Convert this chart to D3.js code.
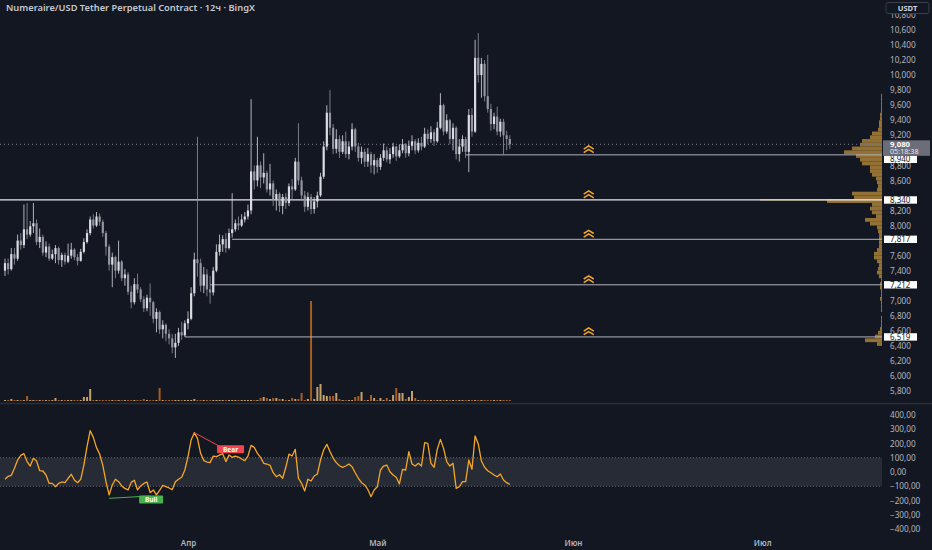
<!DOCTYPE html>
<html>
<head>
<meta charset="utf-8">
<script src="https://cdn.jsdelivr.net/npm/d3@7"></script>
<style>
  html, body { margin: 0; padding: 0; background: #131722; overflow: hidden; }
  svg { display: block; }
  text { font-family: "Noto Sans", sans-serif; }
</style>
</head>
<body>
<script>
/*---------------------------
 DATA
---------------------------*/
var title = "Numeraire/USD Tether Perpetual Contract · 12ч · BingX";

// 12h candles starting 3 March, open of the first one
var firstCandle = Date.UTC(2024, 2, 3);
var firstOpen = 7400;

var closes = [
  7500, 7420, 7620, 7560, 7800, 7740, 7950, 7880, 7990, 8030,
  7780, 7850, 7640, 7720, 7560, 7620, 7700, 7540, 7610, 7520,
  7600, 7680, 7580, 7530, 7650, 7780, 7900, 8080, 8000, 8120,
  8050, 7900, 7720, 7480, 7580, 7400, 7520, 7300, 7350, 7120,
  6980, 7220, 7150, 7020, 6900, 7040, 6980, 6760, 6850, 6620,
  6680, 6560, 6500, 6380, 6440, 6580, 6540, 6700, 6760, 7100,
  7550, 7500, 7200, 7350, 7150, 7110, 7400, 7650, 7750, 7820,
  7700, 7900, 7950, 8030, 8000, 8080, 8120, 8200, 8720, 8600,
  8800, 8640, 8700, 8480, 8560, 8350, 8420, 8260, 8380, 8300,
  8520, 8480, 8850, 8600, 8400, 8250, 8380, 8220, 8320, 8400,
  8650, 9050, 9500, 9300, 9020, 9150, 8980, 9120, 8950, 9050,
  9280, 9050, 8900, 8980, 8850, 8950, 8800, 8870, 8780, 8900,
  9000, 8880, 8950, 9050, 8920, 9000, 9080, 8960, 9060, 9120,
  9000, 9100, 9050, 9220, 9150, 9240, 9120, 9300, 9600, 9250,
  9400, 9150, 9300, 8950, 9050, 9150, 8980, 9470, 9250, 10230,
  10000, 10150, 9720, 9550, 9350, 9450, 9250, 9380, 9200, 9150,
  9080
];
var highs = [
  7560, 7560, 7700, 7700, 7880, 7900, 8280, 8300, 8060, 8300,
  8080, 7960, 7880, 7790, 7760, 7680, 7740, 7720, 7640, 7640,
  7760, 7770, 7700, 7620, 7690, 7830, 7950, 8120, 8150, 8180,
  8160, 8080, 7930, 7750, 7640, 7600, 7800, 7540, 7420, 7380,
  7200, 7300, 7360, 7180, 7060, 7080, 7230, 7000, 6900, 6870,
  6740, 6700, 6620, 6560, 6560, 6640, 6720, 6740, 6860, 7180,
  7640, 9180, 7560, 7450, 7420, 7330, 7450, 7750, 7880, 7870,
  7900, 7960, 8430, 8080, 8120, 8150, 8180, 8280, 9680, 8800,
  9180, 8850, 8960, 8730, 8820, 8600, 8480, 8440, 8420, 8430,
  8560, 8620, 8900, 9360, 8650, 8460, 8440, 8420, 8380, 8450,
  8700, 9120, 9600, 9800, 9350, 9280, 9200, 9200, 9250, 9120,
  9360, 9300, 9100, 9050, 9020, 9030, 8980, 8950, 8900, 8950,
  9090, 9050, 9030, 9100, 9060, 9080, 9150, 9100, 9130, 9200,
  9150, 9160, 9180, 9300, 9280, 9320, 9280, 9380, 9760, 9620,
  9480, 9420, 9360, 9320, 9150, 9200, 9180, 9550, 9560, 10470,
  10560, 10230, 10200, 10270, 9620, 9500, 9580, 9420, 9420, 9260,
  9200
];
var lows = [
  7330, 7350, 7400, 7480, 7530, 7680, 7700, 7820, 7850, 7900,
  7740, 7700, 7600, 7580, 7530, 7540, 7500, 7480, 7450, 7480,
  7500, 7560, 7540, 7470, 7520, 7630, 7760, 7870, 7960, 7980,
  8000, 7850, 7600, 7400, 7180, 7300, 7360, 7260, 7200, 7080,
  6900, 6950, 7100, 6980, 6850, 6860, 6800, 6700, 6580, 6560,
  6500, 6460, 6420, 6300, 6240, 6400, 6480, 6520, 6620, 6740,
  7060, 7320, 7120, 7100, 7060, 6960, 7070, 7380, 7600, 7650,
  7640, 7680, 7840, 7920, 7940, 7980, 8040, 8080, 8150, 8480,
  8520, 8500, 8560, 8440, 8400, 8260, 8200, 8180, 8150, 8220,
  8260, 8350, 8460, 8540, 8330, 8180, 8200, 8150, 8160, 8240,
  8380, 8620, 9000, 9200, 8950, 8960, 8900, 8950, 8900, 8880,
  9000, 8980, 8850, 8820, 8780, 8780, 8700, 8680, 8700, 8740,
  8860, 8840, 8820, 8900, 8860, 8900, 8960, 8900, 8920, 9000,
  8950, 8970, 9000, 9030, 9080, 9100, 9060, 9100, 9280, 9200,
  9220, 9080, 9000, 8880, 8850, 8980, 8900, 8710, 9180, 9230,
  9900, 9700, 9650, 9500, 9260, 9280, 9200, 9180, 8950, 9000,
  9020
];
var volumes = [
  1, 1, 2, 1, 1, 1, 1, 5, 1, 1,
  1, 1, 1, 1, 1, 1, 3, 1, 1, 1,
  1, 1, 1, 1, 1, 4, 4, 12, 1, 1,
  1, 1, 1, 1, 1, 1, 1, 1, 1, 1,
  1, 1, 1, 1, 2, 1, 1, 1, 1, 13,
  1, 1, 1, 1, 1, 1, 1, 1, 1, 1,
  2, 1, 1, 1, 1, 1, 1, 1, 1, 1,
  1, 1, 1, 1, 1, 1, 1, 1, 1, 1,
  1, 3, 4, 3, 2, 3, 3, 2, 2, 1,
  1, 3, 2, 2, 8, 1, 2, 100, 2, 14,
  17, 6, 5, 5, 5, 8, 2, 1, 1, 1,
  1, 4, 5, 9, 1, 1, 6, 3, 1, 3,
  1, 3, 1, 6, 13, 8, 8, 2, 4, 10,
  3, 1, 1, 1, 1, 1, 1, 1, 1, 1,
  1, 1, 1, 1, 1, 1, 1, 1, 1, 1,
  1, 1, 1, 1, 1, 1, 1, 1, 1, 1,
  1
];
var oscValues = [
  -51, -30, -23, 26, 84, 117, 129, 73, 42, 96,
  77, 9, 7, -21, -80, -80, -103, -80, -70, -75,
  -44, -16, -56, -75, -51, 49, 178, 290, 243, 171,
  126, 47, -68, -161, -91, -51, -68, -98, -115, -126,
  -73, -58, -126, -98, -80, -70, -145, -126, -161, -129,
  -94, -103, -112, -124, -68, -51, -37, 14, 108, 225,
  276, 236, 131, 80, 70, 66, 112, 108, 119, 129,
  73, 119, 103, 112, 105, 91, 80, 112, 187, 173,
  131, 103, 61, 56, 47, -5, -33, -19, -44, 33,
  126, 112, 159, -44, -80, -133, -51, -63, -28, -14,
  84, 154, 194, 143, 98, 66, 44, 33, 42, 56,
  37, -5, -44, -75, -91, -122, -173, -126, -103, 14,
  42, 49, 2, -21, -37, -84, 19, 14, 143, 56,
  42, 61, 42, 206, 201, 61, 33, 159, 229, 166,
  73, 42, 61, -115, -103, -68, -68, 84, 19, 253,
  197, 77, 33, 9, -5, -21, -33, -14, -56, -75,
  -87
];

// support levels and the candle each line starts from
var levels = [8940, 8340, 7817, 7212, 6519];
var levelFrom = [146, 0, 72, 65, 57];
var chevronDate = Date.UTC(2024, 5, 3, 12);

var lastPrice = 9080;
var countdown = "05:18:38";

// volume profile, 50-wide price bins starting at 6400
var profileStart = 6400, profileStep = 50;
var profileVol = [
  5, 17, 7, 4, 2, 1, 1, 1, 0, 1, 1, 1,
  2, 1, 1, 2, 2, 1, 3, 5, 4, 3, 5, 8, 8, 5, 3, 3, 3, 3, 4, 5,
  12, 17, 6, 10, 12, 10, 55, 28, 30, 5, 4, 5, 6, 10, 12, 12, 20, 22, 26, 38,
  30, 22, 20, 12, 10, 4, 3, 3, 2, 2, 1, 1, 1, 1, 1
];
var pocPrice = 8340, pocVol = 122;

// divergence marks on the oscillator: [candle index, oscillator value]
var bullDiv = [[33, -185], [46, -168]];
var bearDiv = [[60, 276], [68, 180]];

var priceTicks = [5800, 6000, 6200, 6400, 6600, 6800, 7000, 7200, 7400, 7600, 7800, 8000,
                  8200, 8400, 8600, 8800, 9000, 9200, 9400, 9600, 9800, 10000, 10200,
                  10400, 10600, 10800];
var oscTicks = [400, 300, 200, 100, 0, -100, -200, -300, -400];
var monthTicks = [Date.UTC(2024, 3, 1), Date.UTC(2024, 4, 1), Date.UTC(2024, 5, 1), Date.UTC(2024, 6, 1)];
var monthLabels = ["Апр", "Май", "Июн", "Июл"];

/*---------------------------
 SETUP
---------------------------*/
var W = 932, H = 550, plotRight = 882;
var upColor = "#d9dbe0", downColor = "#92959f";
var axisColor = "#b2b5be";

var candles = closes.map(function(c, i) {
  var o = i ? closes[i - 1] : firstOpen;
  return {
    t: new Date(firstCandle + i * 12 * 3600e3),
    o: o, c: c,
    h: Math.max(highs[i], o, c),
    l: Math.min(lows[i], o, c),
    v: volumes[i],
    osc: oscValues[i]
  };
});

var x = d3.scaleUtc()
          .domain([new Date(Date.UTC(2024, 2, 2, 5)), new Date(Date.UTC(2024, 6, 19, 23, 30))])
          .range([0, plotRight]);
var y = d3.scaleLinear().domain([5800, 10600]).range([391, 30]);
var vy = d3.scaleLinear().domain([0, 100]).range([401, 301]);
var oy = d3.scaleLinear().domain([-400, 400]).range([529, 415]);
var pw = d3.scaleLinear().domain([0, 1]).range([0, 1]);   // profile width in px

var svg = d3.select("body").append("svg")
            .attr("width", W)
            .attr("height", H);

svg.append("rect").attr("width", W).attr("height", H).attr("fill", "#131722");

// pane separator
svg.append("line")
   .attr("x1", 0).attr("x2", W)
   .attr("y1", 403.5).attr("y2", 403.5)
   .attr("stroke", "#2a2e39").attr("stroke-width", 1.5);

/*---------------------------
 MAIN PANE
---------------------------*/
var main = svg.append("g");

// volume profile
var profile = profileVol.map(function(v, i) {
  return { p: profileStart + i * profileStep, v: v };
});
main.selectAll("rect.prof")
    .data(profile.filter(function(d) { return d.v > 0; }))
    .enter()
    .append("rect")
    .attr("class", "prof")
    .attr("x", function(d) { return plotRight - pw(d.v); })
    .attr("y", function(d) { return y(d.p + profileStep); })
    .attr("width", function(d) { return pw(d.v); })
    .attr("height", function(d) { return y(d.p) - y(d.p + profileStep); })
    .attr("fill", "#a27a35")
    .attr("opacity", 0.9);

main.append("line")
    .attr("x1", plotRight - pw(pocVol)).attr("x2", plotRight)
    .attr("y1", y(pocPrice)).attr("y2", y(pocPrice))
    .attr("stroke", "#b98a3a").attr("stroke-width", 1.3);

// current price dotted line
main.append("line")
    .attr("x1", 0).attr("x2", plotRight)
    .attr("y1", y(lastPrice)).attr("y2", y(lastPrice))
    .attr("stroke", "#787b86").attr("stroke-dasharray", "1,3");

// volume bars
main.selectAll("rect.vol")
    .data(candles)
    .enter()
    .append("rect")
    .attr("class", "vol")
    .attr("x", function(d) { return x(d.t) - 1; })
    .attr("y", function(d) { return vy(d.v); })
    .attr("width", 2)
    .attr("height", function(d) { return vy(0) - vy(d.v); })
    .attr("fill", function(d) { return d.c >= d.o ? "#c4a06a" : "#a65d1f"; });

// support lines
levels.forEach(function(lv, k) {
  main.append("line")
      .attr("x1", k === 1 ? 0 : x(candles[levelFrom[k]].t))
      .attr("x2", plotRight)
      .attr("y1", y(lv)).attr("y2", y(lv))
      .attr("stroke", k === 1 ? "#e6e7ea" : "#b2b5be")
      .attr("stroke-width", k === 1 ? 1.3 : 1);

  // double chevron just above the line
  var cx = x(new Date(chevronDate)), cy = y(lv);
  [0, 3.6].forEach(function(off) {
    main.append("path")
        .attr("d", "M" + (cx - 5) + "," + (cy - 2.2 - off) + "L" + cx + "," + (cy - 5.4 - off) +
                   "L" + (cx + 5) + "," + (cy - 2.2 - off))
        .attr("fill", "none")
        .attr("stroke", "#f5a623")
        .attr("stroke-width", 1.5);
  });
});

// candles
var cg = main.selectAll("g.candle")
             .data(candles)
             .enter()
             .append("g")
             .attr("class", "candle");
cg.append("line")
  .attr("x1", function(d) { return x(d.t); })
  .attr("x2", function(d) { return x(d.t); })
  .attr("y1", function(d) { return y(d.h); })
  .attr("y2", function(d) { return y(d.l); })
  .attr("stroke", function(d) { return d.c >= d.o ? upColor : downColor; })
  .attr("stroke-width", 0.8);
cg.append("rect")
  .attr("x", function(d) { return x(d.t) - 1.1; })
  .attr("y", function(d) { return y(Math.max(d.o, d.c)); })
  .attr("width", 2.2)
  .attr("height", function(d) { return Math.max(1, Math.abs(y(d.o) - y(d.c))); })
  .attr("fill", function(d) { return d.c >= d.o ? upColor : downColor; });

// title
svg.append("text")
   .attr("x", 6).attr("y", 10.5)
   .attr("font-size", 9.3).attr("font-weight", 600)
   .attr("fill", "#c5c8d0")
   .text(title);

/*---------------------------
 OSCILLATOR PANE
---------------------------*/
var oscG = svg.append("g");

oscG.append("rect")
    .attr("x", 0).attr("width", plotRight)
    .attr("y", oy(100)).attr("height", oy(-100) - oy(100))
    .attr("fill", "#787b86").attr("opacity", 0.2);
[100, -100].forEach(function(v) {
  oscG.append("line")
      .attr("x1", 0).attr("x2", plotRight)
      .attr("y1", oy(v)).attr("y2", oy(v))
      .attr("stroke", "#787b86").attr("stroke-dasharray", "1,2").attr("opacity", 0.8);
});

var oscLine = d3.line()
                .x(function(d) { return x(d.t); })
                .y(function(d) { return oy(d.osc); });
oscG.append("path")
    .datum(candles)
    .attr("d", oscLine)
    .attr("fill", "none")
    .attr("stroke", "#f5a623")
    .attr("stroke-width", 1.3)
    .attr("stroke-linejoin", "round");

function divergence(pts, color, label, dx, dy, bw) {
  var p = pts.map(function(d) { return [x(candles[d[0]].t), oy(d[1])]; });
  oscG.append("line")
      .attr("x1", p[0][0]).attr("y1", p[0][1])
      .attr("x2", p[1][0]).attr("y2", p[1][1])
      .attr("stroke", color).attr("stroke-width", 1);
  var lx = p[1][0] + dx, ly = p[1][1] + dy;
  oscG.append("rect")
      .attr("x", lx - bw / 2).attr("y", ly - 4)
      .attr("width", bw).attr("height", 8)
      .attr("rx", 1)
      .attr("fill", color);
  oscG.append("text")
      .attr("x", lx).attr("y", ly + 2.3)
      .attr("text-anchor", "middle")
      .attr("font-size", 6.5).attr("font-weight", 700)
      .attr("fill", "#ffffff")
      .text(label);
}
divergence(bullDiv, "#4caf50", "Bull", 1, 3.6, 24);
divergence(bearDiv, "#f0474f", "Bear", 11, 3, 27);

/*---------------------------
 AXES
---------------------------*/
var fmtPrice = d3.format(",");

// tags on the price scale: the last price box, then the level boxes
var curTop = y(lastPrice) - 4, curBottom = y(lastPrice) + 11.5;
var tagY = levels.map(function(lv, k) {
  return k === 0 ? Math.max(y(lv), curBottom + 3.5) : y(lv);
});

// the scale hides tick labels that sit under a tag
var shownTicks = priceTicks.filter(function(t) {
  var ty = y(t);
  if (ty > curTop - 4 && ty < curBottom + 3) return false;
  return tagY.every(function(c) { return Math.abs(ty - c) > 6; });
});

var priceAxis = d3.axisRight(y)
                  .tickValues(shownTicks)
                  .tickSize(0)
                  .tickPadding(8)
                  .tickFormat(function(d) { return fmtPrice(d); });
var pa = svg.append("g")
            .attr("transform", "translate(" + plotRight + ",0)")
            .call(priceAxis);
pa.select(".domain").remove();
pa.selectAll("text")
  .attr("font-family", "Noto Sans").attr("font-size", 8.2)
  .attr("fill", axisColor);

var oscAxis = d3.axisRight(oy)
                .tickValues(oscTicks)
                .tickSize(0)
                .tickPadding(8)
                .tickFormat(function(d) {
                  return (d < 0 ? "−" : "") + Math.abs(d) + ",00";
                });
var oa = svg.append("g")
            .attr("transform", "translate(" + plotRight + ",0)")
            .call(oscAxis);
oa.select(".domain").remove();
oa.selectAll("text")
  .attr("font-family", "Noto Sans").attr("font-size", 8.2)
  .attr("fill", axisColor);

var timeAxis = d3.axisBottom(x)
                 .tickValues(monthTicks.map(function(t) { return new Date(t); }))
                 .tickSize(0)
                 .tickFormat(function(d, i) { return monthLabels[i]; });
var ta = svg.append("g")
            .attr("transform", "translate(0,537)")
            .call(timeAxis);
ta.select(".domain").remove();
ta.selectAll("text")
  .attr("font-family", "Noto Sans").attr("font-size", 8).attr("font-weight", 600)
  .attr("fill", axisColor);

levels.forEach(function(lv, k) {
  var cy = tagY[k];
  svg.append("rect")
     .attr("x", plotRight + 2).attr("y", cy - 3.7)
     .attr("width", 33).attr("height", 7.4)
     .attr("fill", "#ffffff");
  svg.append("text")
     .attr("x", plotRight + 8).attr("y", cy + 2.8)
     .attr("font-size", 8)
     .attr("fill", "#131722")
     .text(fmtPrice(lv));
});

// last price tag with countdown
svg.append("rect")
   .attr("x", plotRight + 1).attr("y", curTop)
   .attr("width", 47).attr("height", curBottom - curTop)
   .attr("fill", "#6b6e79");
svg.append("text")
   .attr("x", plotRight + 8).attr("y", y(lastPrice) + 2.8)
   .attr("font-size", 7.8).attr("font-weight", 700)
   .attr("fill", "#ffffff")
   .text(fmtPrice(lastPrice));
svg.append("text")
   .attr("x", plotRight + 8).attr("y", y(lastPrice) + 9.6)
   .attr("font-size", 7.2)
   .attr("fill", "#e8e9ec")
   .text(countdown);

// currency box
svg.append("rect")
   .attr("x", 886).attr("y", 2.5)
   .attr("width", 43).attr("height", 11)
   .attr("rx", 2)
   .attr("fill", "#131722")
   .attr("stroke", "#3a3e4a");
svg.append("text")
   .attr("x", 907.5).attr("y", 10.6)
   .attr("text-anchor", "middle")
   .attr("font-size", 7.6).attr("font-weight", 700)
   .attr("fill", "#d1d4dc")
   .text("USDT");
</script>
</body>
</html>
